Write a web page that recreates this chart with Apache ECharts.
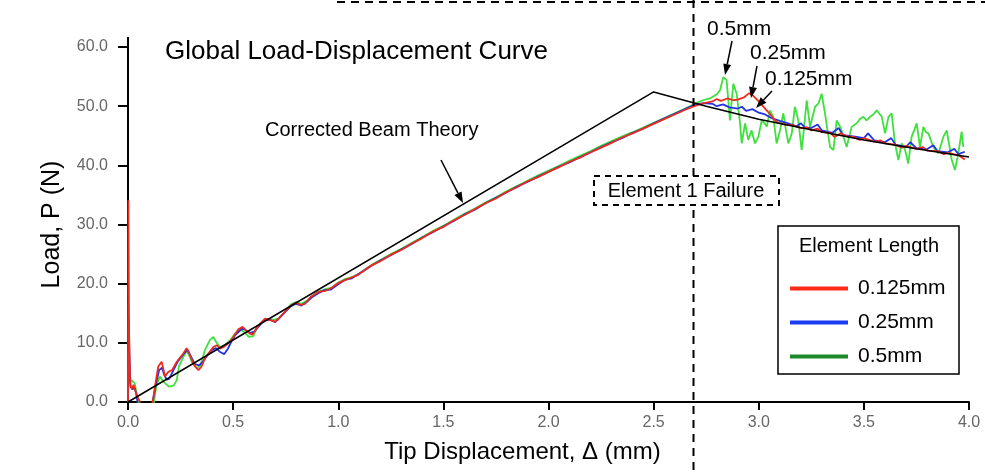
<!DOCTYPE html>
<html lang="en">
<head>
	<meta charset="UTF-8">
	<title>Global Load-Displacement Curve</title>
	<script src="https://cdn.jsdelivr.net/npm/echarts@6/dist/echarts.min.js"></script>
	<style>
		html, body { margin: 0; padding: 0; background: #fff; }
		#chart { width: 985px; height: 472px; }
	</style>
</head>
<body>
<div id="chart"></div>
<script>
	var FONT = '"Liberation Sans", Arial, sans-serif';

	// x ticks / y ticks
	var xTicks = [0, 4, 0.5];   // min, max, interval
	var yTicks = [0, 60, 10];

	// Corrected beam theory (black)
	var beamTheory = [[0,0],[2.5,52.4],[2.75,50.0],[3.0,47.8],[3.25,46.0],[3.5,44.3],[3.75,42.8],[4.0,41.4]];

	// element length 0.125mm (red)
	var red125 = [
		[0,0],[0.002,34.1],[0.005,12],[0.01,3.0],[0.018,2.2],[0.026,2.9],[0.034,2.0],[0.045,0.8],[0.055,0.2],[0.062,-1.5],
		[0.108,-1.5],[0.12,0.5],[0.128,2.6],[0.144,6.0],[0.16,6.8],[0.168,7.1],[0.176,4.3],[0.192,5.1],[0.21,5.4],[0.232,6.8],
		[0.263,8.2],[0.279,9.1],[0.29,8.4],[0.305,7.0],[0.319,6.0],[0.335,5.4],[0.35,6.0],[0.366,7.4],[0.382,8.2],[0.406,9.3],
		[0.422,9.6],[0.437,9.0],[0.455,9.3],[0.47,9.7],[0.485,10.2],[0.5,10.9],[0.525,12.3],[0.545,12.7],[0.56,12.1],[0.578,11.6],
		[0.592,11.4],[0.61,12.4],[0.635,13.5],[0.652,14.1],[0.68,13.8],[0.7,13.6],[0.715,14.0],[0.74,15.0],[0.778,16.4],[0.8,16.8],
		[0.82,16.4],[0.842,16.6],[0.87,17.8],[0.905,18.6],[0.94,18.8],[0.969,19.3],[1.0,20.1],[1.032,20.6],[1.06,21.0],[1.095,21.5],
		[1.13,22.4],[1.159,23.1],[1.2,23.8],[1.25,24.9],[1.3,25.7],[1.35,26.8],[1.4,27.7],[1.45,28.8],[1.5,29.6],[1.55,30.7],
		[1.6,31.6],[1.65,32.6],[1.7,33.6],[1.75,34.4],[1.8,35.5],[1.85,36.3],[1.9,37.3],[1.95,38.0],[2.0,38.9],[2.05,39.7],
		[2.1,40.6],[2.15,41.3],[2.2,42.2],[2.25,43.0],[2.3,43.8],[2.35,44.7],[2.4,45.4],[2.45,46.2],[2.5,47.0],[2.55,47.8],
		[2.6,48.6],[2.65,49.4],[2.7,50.1],[2.74,50.5],[2.78,50.8],[2.8,51.2],[2.82,50.9],[2.85,51.3],[2.88,51.0],[2.9,51.1],
		[2.93,51.5],[2.955,52.2],[2.975,51.7],[3.0,50.8],[3.025,49.8],[3.05,48.8],[3.07,47.9],[3.09,47.2],[3.12,46.9],[3.16,46.8],
		[3.2,46.3],[3.23,46.4],[3.25,45.9],[3.28,46.2],[3.3,45.6],[3.34,45.5],[3.36,44.8],[3.39,45.4],[3.42,44.9],[3.45,44.8],
		[3.48,44.3],[3.5,44.6],[3.55,44.0],[3.58,44.2],[3.6,43.7],[3.65,43.5],[3.68,43.0],[3.7,43.3],[3.75,42.8],[3.78,43.1],
		[3.8,42.5],[3.85,42.4],[3.88,41.9],[3.9,42.1],[3.95,41.7],[3.98,41.0]
	];

	// element length 0.25mm (blue)
	var blue25 = [
		[0,0],[0.003,14.5],[0.007,7.5],[0.012,2.6],[0.022,2.1],[0.03,2.6],[0.04,1.2],[0.052,-1.5],[0.11,-1.5],[0.122,1.0],
		[0.132,2.8],[0.148,5.4],[0.162,5.8],[0.172,4.6],[0.184,3.8],[0.196,3.9],[0.215,5.3],[0.238,6.9],[0.262,8.0],[0.282,8.8],
		[0.298,7.8],[0.318,6.4],[0.338,6.2],[0.356,6.8],[0.378,7.9],[0.4,8.8],[0.418,9.1],[0.44,8.4],[0.458,8.1],[0.475,9.0],
		[0.49,10.1],[0.51,11.3],[0.53,12.0],[0.548,12.5],[0.565,12.0],[0.582,11.7],[0.6,11.9],[0.625,12.9],[0.65,13.9],[0.675,13.9],
		[0.7,13.5],[0.72,14.2],[0.745,15.1],[0.775,16.2],[0.8,16.6],[0.825,16.3],[0.85,16.9],[0.875,17.7],[0.905,18.4],[0.935,18.9],
		[0.965,19.0],[1.0,19.9],[1.035,20.7],[1.065,20.9],[1.1,21.7],[1.135,22.5],[1.165,23.2],[1.2,23.9],[1.25,24.8],[1.3,25.8],
		[1.35,26.7],[1.4,27.8],[1.45,28.7],[1.5,29.7],[1.55,30.6],[1.6,31.7],[1.65,32.5],[1.7,33.6],[1.75,34.5],[1.8,35.4],
		[1.85,36.4],[1.9,37.2],[1.95,38.1],[2.0,38.9],[2.05,39.8],[2.1,40.5],[2.15,41.4],[2.2,42.2],[2.25,43.1],[2.3,43.9],
		[2.35,44.6],[2.4,45.5],[2.45,46.2],[2.5,47.1],[2.55,47.9],[2.6,48.7],[2.65,49.5],[2.7,50.3],[2.74,50.5],[2.78,50.4],
		[2.8,50.0],[2.83,50.3],[2.86,49.8],[2.9,49.6],[2.92,49.9],[2.94,49.2],[2.97,49.5],[3.0,48.9],[3.03,48.6],[3.06,48.0],
		[3.1,47.5],[3.14,47.1],[3.18,46.6],[3.2,47.1],[3.22,46.4],[3.25,46.3],[3.28,46.9],[3.3,45.9],[3.35,45.5],[3.38,46.3],
		[3.4,45.1],[3.45,44.9],[3.5,44.6],[3.52,45.4],[3.55,44.2],[3.6,43.9],[3.63,44.6],[3.65,43.5],[3.7,43.1],[3.72,43.9],
		[3.75,42.9],[3.8,42.7],[3.83,43.4],[3.85,42.4],[3.9,42.2],[3.93,42.8],[3.95,41.9],[3.98,42.3]
	];

	// element length 0.5mm (green)
	var green5 = [
		[0,0],[0.004,9.5],[0.008,3.3],[0.016,3.7],[0.024,3.5],[0.032,3.2],[0.04,1.6],[0.05,0.3],[0.058,-1.5],[0.118,-1.5],
		[0.128,1.2],[0.136,2.9],[0.152,4.3],[0.165,3.6],[0.176,3.2],[0.195,2.6],[0.218,2.8],[0.232,3.7],[0.242,6.0],[0.263,7.6],
		[0.279,8.6],[0.292,7.8],[0.303,6.8],[0.327,5.7],[0.345,6.2],[0.366,8.8],[0.39,10.5],[0.406,11.0],[0.42,10.1],[0.437,9.3],
		[0.46,9.6],[0.485,10.4],[0.51,11.6],[0.53,12.3],[0.55,11.9],[0.575,11.0],[0.595,11.1],[0.615,12.6],[0.64,13.6],[0.66,14.0],
		[0.69,13.9],[0.715,14.1],[0.745,15.2],[0.775,16.5],[0.8,16.9],[0.825,16.6],[0.85,17.1],[0.88,18.0],[0.91,18.7],[0.94,19.1],
		[0.97,19.3],[1.0,20.2],[1.035,20.8],[1.065,21.1],[1.1,21.7],[1.135,22.6],[1.165,23.3],[1.2,24.0],[1.25,25.0],[1.3,25.9],
		[1.35,26.9],[1.4,27.9],[1.45,28.9],[1.5,29.8],[1.55,30.8],[1.6,31.8],[1.65,32.7],[1.7,33.7],[1.75,34.6],[1.8,35.6],
		[1.85,36.5],[1.9,37.4],[1.95,38.3],[2.0,39.1],[2.05,39.9],[2.1,40.8],[2.15,41.6],[2.2,42.4],[2.25,43.3],[2.3,44.1],
		[2.35,44.9],[2.4,45.6],[2.45,46.4],[2.5,47.2],[2.55,48.0],[2.6,48.8],[2.65,49.6],[2.7,50.5],[2.735,51.0],[2.768,51.3],
		[2.8,52.0],[2.816,52.7],[2.831,54.9],[2.847,54.4],[2.863,47.6],[2.879,53.8],[2.895,52.1],[2.911,47.1],[2.919,43.7],[2.935,47.1],
		[2.95,44.3],[2.966,45.9],[2.982,43.7],[2.998,44.8],[3.014,47.6],[3.026,47.2],[3.038,46.5],[3.053,49.3],[3.069,48.2],[3.085,43.7],
		[3.101,45.9],[3.117,48.8],[3.129,46.0],[3.141,43.7],[3.157,45.4],[3.172,49.9],[3.188,47.6],[3.204,42.6],[3.216,46.5],[3.228,51.0],
		[3.244,46.5],[3.256,48.2],[3.268,49.9],[3.285,50.5],[3.299,52.1],[3.315,48.8],[3.339,43.1],[3.355,42.6],[3.371,47.6],[3.383,46.8],
		[3.394,45.9],[3.418,43.1],[3.442,46.5],[3.466,47.1],[3.48,47.8],[3.497,48.2],[3.513,47.6],[3.529,48.2],[3.545,48.6],[3.561,49.3],
		[3.585,48.2],[3.601,45.4],[3.617,48.2],[3.632,48.8],[3.648,43.7],[3.664,40.9],[3.68,43.7],[3.696,42.6],[3.711,40.3],[3.727,44.8],
		[3.74,46.0],[3.751,47.1],[3.767,43.1],[3.783,46.5],[3.795,45.6],[3.807,45.4],[3.83,43.1],[3.854,42.0],[3.878,44.8],[3.894,45.9],
		[3.918,40.9],[3.933,39.2],[3.949,42.0],[3.965,45.7],[3.973,43.1]
	];

	var failureX = 2.687; // Element 1 failure displacement

	var chart = echarts.init(document.getElementById('chart'));

	function lineSeries(name, data, color, width) {
		return {
			name: name, type: 'line', data: data, symbol: 'none',
			lineStyle: { color: color, width: width }, itemStyle: { color: color },
			animation: false, silent: true
		};
	}

	chart.setOption({
		animation: false,
		grid: { left: 128, right: 16, top: 47, bottom: 70 },
		xAxis: {
			type: 'value', min: xTicks[0], max: xTicks[1], interval: xTicks[2],
			name: 'Tip Displacement, \u0394 (mm)', nameLocation: 'middle', nameGap: 38,
			nameTextStyle: { fontFamily: FONT, fontSize: 24, color: '#000', padding: [0, 52, 0, 0] },
			axisLine: { lineStyle: { color: '#000', width: 2 } },
			axisTick: { length: 8, lineStyle: { color: '#000', width: 2 } },
			axisLabel: { margin: 13, fontFamily: FONT, fontSize: 16, color: '#666',
				formatter: function (v) { return v.toFixed(1); } },
			splitLine: { show: false }
		},
		yAxis: {
			type: 'value', min: yTicks[0], max: yTicks[1], interval: yTicks[2],
			name: 'Load, P (N)', nameLocation: 'middle', nameGap: 63,
			nameTextStyle: { fontFamily: FONT, fontSize: 25, color: '#000' },
			axisLine: { show: true, lineStyle: { color: '#000', width: 2 } },
			axisTick: { show: true, length: 10, lineStyle: { color: '#000', width: 2 } },
			axisLabel: { margin: 20, fontFamily: FONT, fontSize: 16, color: '#666',
				formatter: function (v) { return v.toFixed(1); } },
			splitLine: { show: false }
		},
		legend: {
			orient: 'vertical', left: 785, top: 273, itemWidth: 58, itemHeight: 4, itemGap: 13,
			icon: 'rect', selectedMode: false,
			textStyle: { fontFamily: FONT, fontSize: 21, color: '#000', padding: [0, 0, 0, 5] },
			data: [
				{ name: '0.125mm', itemStyle: { color: '#ff2a1a' } },
				{ name: '0.25mm', itemStyle: { color: '#1a3cf0' } },
				{ name: '0.5mm', itemStyle: { color: '#1c8a2a' } }
			]
		},
		series: [
			lineSeries('0.5mm', green5, '#3ee03e', 1.8),
			lineSeries('0.25mm', blue25, '#2233e6', 1.8),
			lineSeries('0.125mm', red125, '#ee2a1e', 1.8),
			lineSeries('Corrected Beam Theory', beamTheory, '#000', 1.5)
		]
	});

	// annotations
	function arrow(from, to) {
		var dx = to[0] - from[0], dy = to[1] - from[1];
		var len = Math.sqrt(dx * dx + dy * dy), ux = dx / len, uy = dy / len;
		var bx = to[0] - ux * 11, by = to[1] - uy * 11;
		return [
			{ type: 'line', z: 10, shape: { x1: from[0], y1: from[1], x2: bx, y2: by }, style: { stroke: '#000', lineWidth: 1.5 } },
			{ type: 'polygon', z: 10, shape: { points: [to, [bx - uy * 4, by + ux * 4], [bx + uy * 4, by - ux * 4]] }, style: { fill: '#000' } }
		];
	}
	function text(x, y, str, size, align) {
		return { type: 'text', z: 11, x: x, y: y,
			style: { text: str, fontFamily: FONT, fontSize: size, fill: '#000', align: align || 'left', verticalAlign: 'middle' } };
	}

	var origin = chart.convertToPixel({ gridIndex: 0 }, [0, yTicks[1]]);
	var fx = Math.round(chart.convertToPixel({ gridIndex: 0 }, [failureX, 0])[0]) + 0.5;
	var dash = [8, 6];
	var g = [
		// axis line runs a little past 60.0
		{ type: 'line', z: 3, shape: { x1: origin[0], y1: origin[1] - 10, x2: origin[0], y2: origin[1] }, style: { stroke: '#000', lineWidth: 2 } },
		{ type: 'line', z: 5, shape: { x1: fx, y1: 0, x2: fx, y2: 472 }, style: { stroke: '#000', lineWidth: 2, lineDash: dash } },
		{ type: 'line', z: 5, shape: { x1: 337, y1: 2, x2: 985, y2: 2 }, style: { stroke: '#000', lineWidth: 2, lineDash: dash } },
		{ type: 'rect', z: 6, shape: { x: 594, y: 176, width: 185, height: 29 }, style: { fill: '#fff', stroke: '#000', lineWidth: 2, lineDash: [6, 5] } },
		text(686, 191, 'Element 1 Failure', 20, 'center'),
		{ type: 'rect', z: 2, shape: { x: 778, y: 226, width: 181, height: 148 }, style: { fill: '#fff', stroke: '#000', lineWidth: 1.5 } },
		text(869, 246, 'Element Length', 20, 'center'),
		text(165, 52, 'Global Load-Displacement Curve', 26),
		text(265, 130, 'Corrected Beam Theory', 20),
		text(707, 29, '0.5mm', 21),
		text(750, 53, '0.25mm', 21),
		text(765, 79, '0.125mm', 21)
	];
	g = g.concat(arrow([441, 160], [463, 203]));
	g = g.concat(arrow([732, 41], [725, 75]));
	g = g.concat(arrow([757, 66], [751, 98]));
	g = g.concat(arrow([772, 91], [756, 108]));

	chart.setOption({ graphic: g });
</script>
</body>
</html>
